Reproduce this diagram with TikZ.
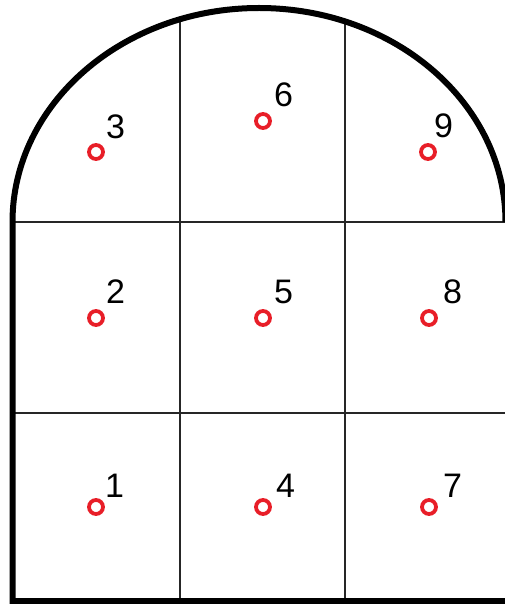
\documentclass[tikz,border=0pt]{standalone}
\usepackage{fontspec}
\setmainfont{Liberation Sans}
\definecolor{ptred}{RGB}{232,30,40}
\begin{document}
\begin{tikzpicture}[x=1pt,y=-1pt,
  thinline/.style={line width=1.5pt,black!85},
  outline/.style={line width=6pt,black},
  ptmark/.style={circle,draw=ptred,line width=3.8pt,minimum size=14pt,inner sep=0pt},
  ptlabel/.style={anchor=base west,inner sep=0pt,font=\fontsize{34}{34}\selectfont}]
\useasboundingbox (0,0) rectangle (505,604);
% grid
\begin{scope}
\clip (12,222) arc[start angle=180,end angle=0,x radius=246.5pt,y radius=214pt] -- (505,604) -- (12,604) -- cycle;
\draw[thinline] (12,222) -- (505,222);
\draw[thinline] (12,413) -- (505,413);
\draw[thinline] (180,0) -- (180,604);
\draw[thinline] (345,0) -- (345,604);
\end{scope}
% outline
\draw[outline] (505,601) -- (12.5,601) -- (12.5,222) arc[start angle=180,end angle=0,x radius=246.5pt,y radius=214pt];
% points
\node[ptmark] (p1) at (96,507) {};
\node[ptmark] (p2) at (96,318) {};
\node[ptmark] (p3) at (96,152) {};
\node[ptmark] (p4) at (263,507) {};
\node[ptmark] (p5) at (263,318) {};
\node[ptmark] (p6) at (263,121) {};
\node[ptmark] (p7) at (429,507) {};
\node[ptmark] (p8) at (429,318) {};
\node[ptmark] (p9) at (428,152) {};
% labels
\node[ptlabel] (l1) at (105,497) {1};
\node[ptlabel] (l2) at (106,303) {2};
\node[ptlabel] (l3) at (106,139) {3};
\node[ptlabel] (l4) at (276,497) {4};
\node[ptlabel] (l5) at (274,303) {5};
\node[ptlabel] (l6) at (274,107) {6};
\node[ptlabel] (l7) at (443,497) {7};
\node[ptlabel] (l8) at (443,303) {8};
\node[ptlabel] (l9) at (434,138) {9};
\end{tikzpicture}
\end{document}
